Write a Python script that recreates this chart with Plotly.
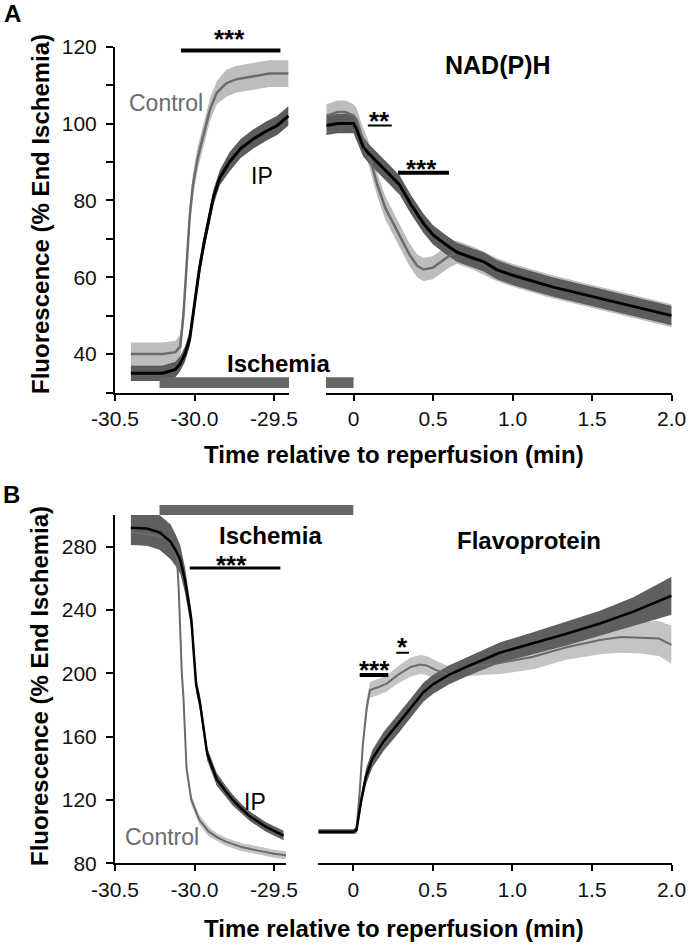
import plotly.graph_objects as go

W, H = 689, 945
FONT = "Liberation Sans, Arial, Helvetica, sans-serif"

# ---------------- Panel A : NAD(P)H ----------------
t_ctrl_a1 = [-30.40, -30.30, -30.20, -30.12, -30.09, -30.07, -30.05, -30.03, -30.01, -29.98,
             -29.95, -29.92, -29.90, -29.86, -29.80, -29.74, -29.63, -29.53, -29.41]
ctrl_a1 = [40, 40, 40, 40.5, 42, 50, 63, 76, 84, 91, 96, 101, 104, 108, 110.5, 111.5, 112.3, 113, 113]
ctrl_a1_sem = [3, 3, 3, 3, 3, 3, 3, 3, 3, 3, 3, 3, 3, 3, 3.5, 3.5, 3.5, 3.5, 3.5]

t_ip_a1 = [-30.40, -30.30, -30.20, -30.12, -30.09, -30.06, -30.03, -30.00, -29.97, -29.94,
           -29.91, -29.88, -29.84, -29.78, -29.71, -29.63, -29.55, -29.48, -29.41]
ip_a1 = [35, 35, 35, 36, 37.5, 40, 44, 53, 62, 69, 75, 81, 86, 90, 93.5, 96, 98, 99.5, 102]
ip_a1_sem = [2, 2, 2, 2, 2, 2, 2, 2, 2, 2, 2, 2, 2, 2.5, 2.5, 2.5, 2.5, 2.5, 2.5]

t_ctrl_a2 = [-0.17, -0.10, -0.05, 0.00, 0.02, 0.05, 0.09, 0.15, 0.20, 0.25, 0.30, 0.35, 0.40,
             0.44, 0.50, 0.55, 0.60, 0.65, 0.75, 0.90, 1.00, 1.25, 1.50, 1.75, 2.00]
ctrl_a2 = [102, 103, 103, 102, 101, 97, 93, 84, 78, 74, 70, 66, 63, 62, 62.5, 64, 65.5, 66.5,
           65, 62, 60.5, 57.5, 55, 52.5, 50]
ctrl_a2_sem = [3, 3, 3, 3, 3, 3, 3, 3, 3, 3, 3, 3, 3, 3, 3, 3, 3, 3, 3, 3, 3, 3, 3, 3, 3]

t_ip_a2 = [-0.17, -0.10, -0.05, 0.00, 0.02, 0.04, 0.06, 0.10, 0.15, 0.22, 0.29, 0.36, 0.44,
           0.50, 0.58, 0.65, 0.75, 0.82, 0.90, 1.00, 1.25, 1.50, 1.75, 2.00]
ip_a2 = [99.5, 100, 100, 100, 98.5, 96, 94, 92, 90, 87, 84, 79, 74, 71, 68.5, 66.5, 65, 64,
         62, 60.5, 57.5, 55, 52.5, 50]
ip_a2_sem = [2.5, 2.5, 2.5, 2.5, 2.5, 2.5, 2.5, 2.5, 2.5, 2.5, 2.5, 2.5, 2.5, 2.5, 2.5, 2.5,
             2.5, 2.5, 2.5, 2.5, 2.5, 2.5, 2.5, 2.5]

# ---------------- Panel B : Flavoprotein ----------------
t_ctrl_b1 = [-30.40, -30.30, -30.20, -30.14, -30.11, -30.10, -30.09, -30.08, -30.07, -30.05,
             -30.02, -29.97, -29.91, -29.86, -29.80, -29.71, -29.60, -29.50, -29.42]
ctrl_b1 = [289, 288, 286, 282, 272, 255, 228, 200, 186, 140, 120, 107.5, 100, 96.5, 93.5, 90.5, 88, 86, 85]
ctrl_b1_sem = [6, 6, 6, 6, 6, 5, 5, 5, 4, 4, 3, 3, 3, 2.5, 2.5, 2.5, 2.5, 2.5, 2.5]

t_ip_b1 = [-30.40, -30.30, -30.22, -30.15, -30.12, -30.09, -30.06, -30.02, -29.99, -29.965,
           -29.92, -29.86, -29.80, -29.76, -29.70, -29.65, -29.55, -29.50, -29.44]
ip_b1 = [292, 291.5, 289, 283, 278, 272, 259, 234, 193, 181, 149, 133, 125, 120, 114, 109.5, 103, 100.5, 97.5]
ip_b1_sem = [11, 11, 11, 11, 10, 9, 8, 6, 5, 5, 4, 4, 3.5, 3.5, 3, 3, 3, 3, 3]

t_ctrl_b2 = [-0.22, -0.10, 0.00, 0.02, 0.04, 0.06, 0.085, 0.105, 0.15, 0.21, 0.28, 0.36, 0.42,
             0.46, 0.52, 0.60, 0.70, 0.80, 0.92, 1.13, 1.34, 1.55, 1.68, 1.80, 1.92, 2.00]
ctrl_b2 = [100, 100, 100, 101, 125, 155, 179, 189.5, 191, 193.5, 199, 204, 205.5, 205, 202,
           199.5, 203, 205, 206.5, 210.5, 216.5, 221, 223, 222.5, 222, 218]
ctrl_b2_sem = [1.5, 1.5, 1.5, 2, 3, 4, 5, 5, 5, 5, 5.5, 6, 6, 6, 6, 5, 5, 6, 7, 8, 8, 9, 10, 10, 11, 12]

t_ip_b2 = [-0.22, -0.10, 0.00, 0.02, 0.05, 0.08, 0.12, 0.19, 0.29, 0.36, 0.44, 0.50, 0.60,
           0.71, 0.92, 1.13, 1.34, 1.55, 1.76, 2.00]
ip_b2 = [100, 100, 100, 101, 120, 135, 146, 157, 169, 178, 188, 193, 199, 204, 213, 219, 225,
         231.5, 239, 249]
ip_b2_sem = [1.5, 1.5, 1.5, 2, 4, 5, 5.5, 6, 6, 6, 6, 6, 6, 6, 6.5, 7, 7.5, 8, 9, 12]

# tick labels
xt_left = [-30.5, -30.0, -29.5]
xt_left_text = ["-30.5", "-30.0", "-29.5"]
xt_right = [0, 0.5, 1.0, 1.5, 2.0]
xt_right_text = ["0", "0.5", "1.0", "1.5", "2.0"]
yt_a = [30, 40, 50, 60, 70, 80, 90, 100, 110, 120]
yt_a_text = ["", "40", "", "60", "", "80", "", "100", "", "120"]
yt_b = [80, 120, 160, 200, 240, 280]
yt_b_text = ["80", "120", "160", "200", "240", "280"]

# ischemia periods
isch_a_left = [-30.22, -29.406]
isch_a_right = [-0.175, 0.0]
isch_b_left = [-30.22, -29.4245]
isch_b_right = [-0.22, 0.0]

CTRL_LINE = "#6b6b6b"
CTRL_BAND = "#bdbdbd"
IP_LINE = "#000000"
IP_BAND = "#5c5c5c"
BAR = "#666666"

fig = go.Figure()


def add_series(t, v, sem, xa, ya, line_color, band_color, lw):
    up = [a + b for a, b in zip(v, sem)]
    lo = [a - b for a, b in zip(v, sem)]
    fig.add_trace(go.Scatter(x=list(t) + list(t)[::-1], y=up + lo[::-1], fill="toself",
                             fillcolor=band_color, line=dict(width=0), mode="lines",
                             xaxis=xa, yaxis=ya, hoverinfo="skip", showlegend=False))
    return dict(x=t, y=v, mode="lines", line=dict(color=line_color, width=lw),
                xaxis=xa, yaxis=ya, showlegend=False)


lines = []
# A
lines.append(add_series(t_ctrl_a1, ctrl_a1, ctrl_a1_sem, "x", "y", CTRL_LINE, CTRL_BAND, 2.5))
lines.append(add_series(t_ip_a1, ip_a1, ip_a1_sem, "x", "y", IP_LINE, IP_BAND, 3))
lines.append(add_series(t_ctrl_a2, ctrl_a2, ctrl_a2_sem, "x2", "y2", CTRL_LINE, CTRL_BAND, 2.5))
lines.append(add_series(t_ip_a2, ip_a2, ip_a2_sem, "x2", "y2", IP_LINE, IP_BAND, 3))
# B
lines.append(add_series(t_ctrl_b1, ctrl_b1, ctrl_b1_sem, "x3", "y3", CTRL_LINE, "#c4c4c4", 2))
lines.append(add_series(t_ip_b1, ip_b1, ip_b1_sem, "x3", "y3", IP_LINE, "#5f5f5f", 2.5))
lines.append(add_series(t_ctrl_b2, ctrl_b2, ctrl_b2_sem, "x4", "y4", CTRL_LINE, "#c4c4c4", 2))
lines.append(add_series(t_ip_b2, ip_b2, ip_b2_sem, "x4", "y4", IP_LINE, "#5f5f5f", 2.5))
for ln in lines:
    fig.add_trace(go.Scatter(**ln))

tickfont = dict(family=FONT, size=21, color="#111111")
xcommon = dict(showline=True, linecolor="black", linewidth=2, ticks="outside", ticklen=6,
               tickwidth=2, tickcolor="black", showgrid=False, zeroline=False,
               tickfont=tickfont, tickmode="array", ticklabelstandoff=0, fixedrange=True,
               automargin=False)
ycommon = dict(showline=True, linecolor="black", linewidth=2, ticks="outside", ticklen=7,
               tickwidth=2, tickcolor="black", showgrid=False, zeroline=False,
               tickfont=tickfont, tickmode="array", ticklabelstandoff=5, fixedrange=True,
               automargin=False)

yA = [(H - 392.5) / H, (H - 46.7) / H]
yB = [(H - 863.3) / H, (H - 515) / H]

fig.update_layout(
    template="none",
    width=W, height=H, margin=dict(l=0, r=0, t=0, b=0, pad=0, autoexpand=False),
    paper_bgcolor="white", plot_bgcolor="white", showlegend=False,
    font=dict(family=FONT, color="black"),
    xaxis=dict(domain=[115 / W, 289 / W], range=[-30.5, -29.406], anchor="y",
               tickvals=xt_left, ticktext=xt_left_text, **xcommon),
    yaxis=dict(domain=yA, range=[30, 120], anchor="x",
               tickvals=yt_a, ticktext=yt_a_text, **ycommon),
    xaxis2=dict(domain=[325.7 / W, 671.7 / W], range=[-0.175, 2.001], anchor="y2",
                tickvals=xt_right, ticktext=xt_right_text, **xcommon),
    yaxis2=dict(domain=yA, range=[30, 120], anchor="x2", visible=False, fixedrange=True,
                automargin=False),
    xaxis3=dict(domain=[115 / W, 286 / W], range=[-30.5, -29.4245], anchor="y3",
                tickvals=xt_left, ticktext=xt_left_text, **xcommon),
    yaxis3=dict(domain=yB, range=[80, 300], anchor="x3",
                tickvals=yt_b, ticktext=yt_b_text, **ycommon),
    xaxis4=dict(domain=[318.3 / W, 671.7 / W], range=[-0.22, 2.001], anchor="y4",
                tickvals=xt_right, ticktext=xt_right_text, **xcommon),
    yaxis4=dict(domain=yB, range=[80, 300], anchor="x4", visible=False, fixedrange=True,
                automargin=False),
)

shapes = []
# Ischemia bars, panel A (inside plot, bottom)
shapes.append(dict(type="rect", xref="x", yref="y", x0=isch_a_left[0], x1=isch_a_left[1],
                   y0=31.2, y1=34.0, fillcolor=BAR, line=dict(width=0)))
shapes.append(dict(type="rect", xref="x2", yref="y2", x0=isch_a_right[0], x1=isch_a_right[1],
                   y0=31.2, y1=34.0, fillcolor=BAR, line=dict(width=0)))
# Ischemia bar, panel B (above plot, continuous across the break)
bt = 10 / 348.3
shapes.append(dict(type="rect", xref="x3", yref="y3 domain", x0=isch_b_left[0], x1=isch_b_left[1],
                   y0=1.0, y1=1.0 + bt, fillcolor=BAR, line=dict(width=0)))
shapes.append(dict(type="rect", xref="paper", yref="y3 domain", x0=283 / W, x1=321 / W,
                   y0=1.0, y1=1.0 + bt, fillcolor=BAR, line=dict(width=0)))
shapes.append(dict(type="rect", xref="x4", yref="y4 domain", x0=isch_b_right[0], x1=isch_b_right[1],
                   y0=1.0, y1=1.0 + bt, fillcolor=BAR, line=dict(width=0)))

# significance lines
sig_lines = [
    ("x", "y", -30.085, -29.46, 119.0, 4),
    ("x2", "y2", 0.09, 0.24, 99.5, 2),
    ("x2", "y2", 0.28, 0.60, 87.2, 4),
    ("x3", "y3", -30.03, -29.46, 266.5, 3),
    ("x4", "y4", 0.04, 0.22, 199, 4),
    ("x4", "y4", 0.27, 0.35, 213, 2),
]
for xr, yr, x0, x1, yv, w in sig_lines:
    shapes.append(dict(type="line", xref=xr, yref=yr, x0=x0, x1=x1, y0=yv, y1=yv,
                       line=dict(color="black", width=w)))
fig.update_layout(shapes=shapes)

ann = []


def txt(text, x, y, xref, yref, size, bold=False, color="black", angle=0):
    ann.append(dict(text=text, x=x, y=y, xref=xref, yref=yref, showarrow=False,
                    xanchor="center", yanchor="middle", textangle=angle,
                    font=dict(family=FONT, size=size, color=color,
                              weight="bold" if bold else "normal")))


# stars
txt("***", -29.777, 1.022, "x", "y domain", 26, True)
txt("**", 0.161, 100.6, "x2", "y2", 26, True)
txt("***", 0.43, 88.2, "x2", "y2", 26, True)
txt("***", -29.77, 268.4, "x3", "y3", 26, True)
txt("***", 0.136, 202.1, "x4", "y4", 26, True)
txt("*", 0.31, 216.6, "x4", "y4", 26, True)

# labels
txt("Ischemia", -29.47, 37.6, "x", "y", 24, True)
txt("Ischemia", -29.525, 286.8, "x3", "y3", 24, True)
txt("NAD(P)H", 0.909, 115.3, "x2", "y2", 25, True)
txt("Flavoprotein", 1.104, 283.6, "x4", "y4", 24, True)
txt("Control", -30.18, 105.3, "x", "y", 23, False, CTRL_LINE)
txt("IP", -29.575, 86.4, "x", "y", 23)
txt("Control", -30.206, 96.8, "x3", "y3", 23, False, CTRL_LINE)
txt("IP", -29.62, 119, "x3", "y3", 23)

# axis titles and panel letters
txt("Fluorescence (% End Ischemia)", 40 / W, (H - 214) / H, "paper", "paper", 24, True, angle=-90)
txt("Fluorescence (% End Ischemia)", 40 / W, (H - 686) / H, "paper", "paper", 24, True, angle=-90)
txt("Time relative to reperfusion (min)", 394 / W, (H - 454) / H, "paper", "paper", 24, True)
txt("Time relative to reperfusion (min)", 394 / W, (H - 928) / H, "paper", "paper", 24, True)
txt("A", 12.5 / W, (H - 13.5) / H, "paper", "paper", 24, True)
txt("B", 11.5 / W, (H - 494) / H, "paper", "paper", 24, True)

fig.update_layout(annotations=ann)
fig.write_html("out.html", config={"displayModeBar": False},
               post_script="document.body.style.margin='0';document.body.style.overflow='hidden';")
